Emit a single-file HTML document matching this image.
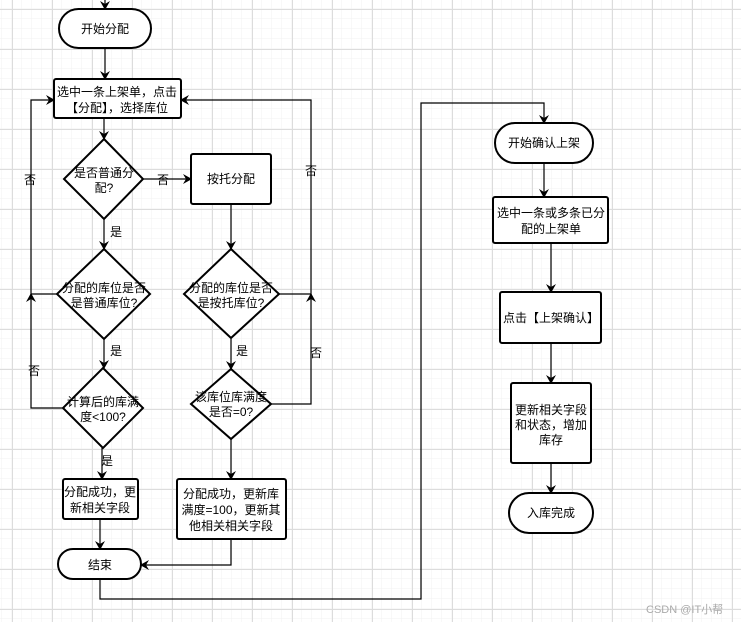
<!DOCTYPE html>
<html><head><meta charset="utf-8"><style>
html,body{margin:0;padding:0;background:#fff;}
svg{display:block;}
text{font-family:"Liberation Sans","Noto Sans CJK SC",sans-serif;font-size:12px;fill:#000;}
</style></head><body>
<svg width="741" height="622" viewBox="0 0 741 622" xmlns="http://www.w3.org/2000/svg">
<defs>
<pattern id="minor" width="10" height="10" patternUnits="userSpaceOnUse" x="2" y="9">
<path d="M10 0V10M0 10H10" fill="none" stroke="#f2f2f2" stroke-width="1"/></pattern>
<pattern id="major" width="40" height="40" patternUnits="userSpaceOnUse" x="12" y="9">
<path d="M0.5 0V40M0 0.5H40" fill="none" stroke="#dcdcdc" stroke-width="1"/></pattern>
<marker id="a" markerWidth="10" markerHeight="10" refX="8" refY="5" orient="auto" markerUnits="userSpaceOnUse">
<path d="M0 0L9 5L0 10L3 5Z" fill="#000"/></marker>
</defs>
<rect width="741" height="622" fill="url(#minor)"/>
<rect width="741" height="622" fill="url(#major)"/>
<g fill="none" stroke="#000" stroke-width="1.2">
<path d="M105 0V9" marker-end="url(#a)"/>
<path d="M105 48V79" marker-end="url(#a)"/>
<path d="M104 118V139" marker-end="url(#a)"/>
<path d="M143 179H191" marker-end="url(#a)"/>
<path d="M104 219V249" marker-end="url(#a)"/>
<path d="M231 204V249" marker-end="url(#a)"/>
<path d="M104 339V368" marker-end="url(#a)"/>
<path d="M231 339V369" marker-end="url(#a)"/>
<path d="M57 294H31V100H54" marker-end="url(#a)"/>
<path d="M63 408H31V294" marker-end="url(#a)"/>
<path d="M279 294H311V100H181" marker-end="url(#a)"/>
<path d="M271 404H311V294" marker-end="url(#a)"/>
<path d="M102 448V479" marker-end="url(#a)"/>
<path d="M231 439V479" marker-end="url(#a)"/>
<path d="M100 519V549" marker-end="url(#a)"/>
<path d="M231 539V565H141" marker-end="url(#a)"/>
<path d="M100 579V599H421V103H544V123" marker-end="url(#a)"/>
<path d="M544 163V197" marker-end="url(#a)"/>
<path d="M551 243V292" marker-end="url(#a)"/>
<path d="M551 343V383" marker-end="url(#a)"/>
<path d="M551 463V493" marker-end="url(#a)"/>
</g>
<g fill="#fff" stroke="#000" stroke-width="2">
<rect x="59" y="9" width="92" height="39" rx="19.5"/>
<rect x="54" y="79" width="127" height="39" rx="2"/>
<path d="M104 139L143 179L104 219L64 179Z"/>
<rect x="191" y="154" width="80" height="50" rx="2"/>
<path d="M104 249L150 294L104 339L57 294Z"/>
<path d="M231 249L279 294L231 338L184 294Z"/>
<path d="M103 368L143 408L103 448L63 408Z"/>
<path d="M231 369L271 404L231 439L191 404Z"/>
<rect x="63" y="479" width="75" height="40" rx="2"/>
<rect x="177" y="479" width="109" height="60" rx="2"/>
<rect x="58" y="549" width="83" height="30" rx="15"/>
<rect x="495" y="123" width="98" height="40" rx="20"/>
<rect x="493" y="197" width="115" height="46" rx="2"/>
<rect x="500" y="292" width="101" height="51" rx="2"/>
<rect x="511" y="383" width="80" height="80" rx="2"/>
<rect x="509" y="493" width="84" height="40" rx="20"/>
</g>
<g text-anchor="middle">
<text x="105" y="33">开始分配</text>
<text x="117" y="96">选中一条上架单，点击</text>
<text x="117" y="112">【分配】，选择库位</text>
<text x="104" y="177">是否普通分</text>
<text x="104" y="192">配?</text>
<text x="231" y="183">按托分配</text>
<text x="104" y="292">分配的库位是否</text>
<text x="104" y="307">是普通库位?</text>
<text x="231" y="292">分配的库位是否</text>
<text x="231" y="307">是按托库位?</text>
<text x="103" y="406">计算后的库满</text>
<text x="103" y="421">度&lt;100?</text>
<text x="231" y="401">该库位库满度</text>
<text x="231" y="416">是否=0?</text>
<text x="100" y="496">分配成功，更</text>
<text x="100" y="512">新相关字段</text>
<text x="231" y="498">分配成功，更新库</text>
<text x="231" y="514">满度=100，更新其</text>
<text x="231" y="530">他相关相关字段</text>
<text x="100" y="569">结束</text>
<text x="544" y="147">开始确认上架</text>
<text x="551" y="217">选中一条或多条已分</text>
<text x="551" y="233">配的上架单</text>
<text x="551" y="322">点击【上架确认】</text>
<text x="551" y="414">更新相关字段</text>
<text x="551" y="429">和状态，增加</text>
<text x="551" y="444">库存</text>
<text x="551" y="517">入库完成</text>
<text x="30" y="184">否</text>
<text x="163" y="184">否</text>
<text x="311" y="175">否</text>
<text x="116" y="236">是</text>
<text x="116" y="355">是</text>
<text x="34" y="375">否</text>
<text x="242" y="355">是</text>
<text x="316" y="357">否</text>
<text x="107" y="465">是</text>
</g>
<text x="646" y="613" style="font-size:11px;fill:#aaa">CSDN @IT小帮</text>
</svg>
</body></html>
